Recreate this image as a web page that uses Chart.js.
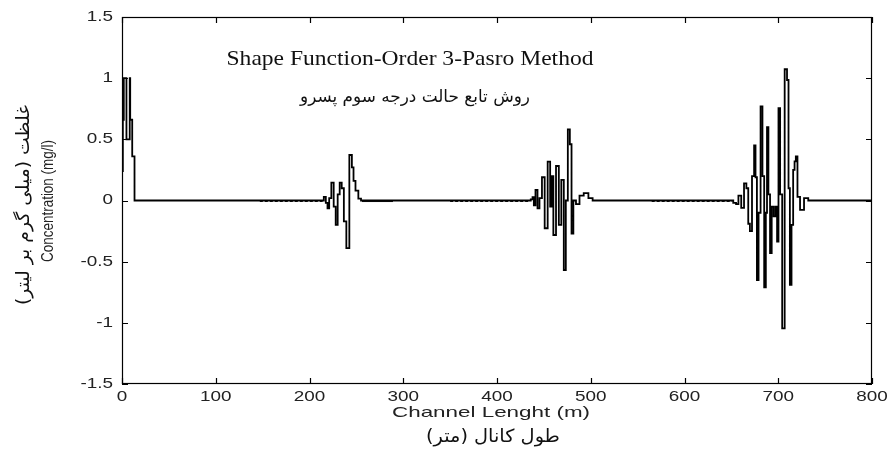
<!DOCTYPE html>
<html>
<head>
<meta charset="utf-8">
<script src="https://cdn.jsdelivr.net/npm/chart.js@4.4.1/dist/chart.umd.min.js"></script>
<style>
  html, body { margin: 0; padding: 0; background: #fff; }
  #wrap { width: 891px; height: 454px; }
</style>
</head>
<body>
<div id="wrap"><canvas id="conc"></canvas></div>
<script>
// inlet pulse
const pulseX = [0, 1.8, 2, 4.5, 5, 8, 8.5, 9, 10.8, 11, 13.2, 13.5];
const pulseY = [0.24, 0.66, 1.0, 1.0, 0.5, 0.5, 1.0, 0.66, 0.66, 0.36, 0.36, 0];

// travelling packets
const wave1X = [214, 216.5, 218.3, 220.1, 221.9, 224.7, 226.9, 229, 231.1, 233.3, 235.4, 237.9, 240.7, 244.3, 246.1, 247.8, 250.3, 253.9, 256];
const wave1Y = [0, 0.03, -0.02, -0.065, 0.02, 0.146, -0.05, -0.2, 0.05, 0.146, 0.1, -0.17, -0.39, 0.372, 0.27, 0.16, 0.08, 0.015, 0];

const wave2X = [435, 437, 438.8, 439.8, 442.3, 444.1, 446.5, 449.4, 452.3, 455.8, 457.6, 459, 461.2, 464.7, 467.2, 470, 472.5, 474.3, 476.8, 478.6, 480.4, 482.5, 486, 490, 495, 500, 504];
const wave2Y = [0, 0.01, 0.027, -0.04, 0.086, -0.064, 0.02, 0.19, -0.227, 0.317, -0.05, 0.2, -0.282, 0.282, -0.2, 0.168, -0.568, 0.0, 0.582, 0.46, -0.27, 0, -0.03, 0.04, 0.06, 0.02, 0];

const wave3X = [650, 654, 656, 659, 662, 665, 667, 669, 670.5, 673.5, 675, 676.5, 678, 680, 682.3, 684, 686, 687.5, 688.5, 690.5, 692, 694, 696, 698, 699.5, 701, 703, 705.4, 708.3, 710.4, 711.5, 713.3, 715, 716.8, 718, 719.5, 721.5, 725, 730, 734];
const wave3Y = [0, -0.02, -0.03, 0.04, -0.06, 0.14, 0.1, -0.19, -0.25, 0.2, 0.45, 0.19, -0.65, -0.1, 0.77, 0.2, -0.71, -0.1, 0.6, 0.05, -0.43, -0.05, -0.13, -0.05, -0.335, 0.754, 0.05, -1.045, 1.073, 0.985, 0.1, -0.69, -0.2, 0.25, 0.32, 0.36, 0.03, -0.076, 0.02, 0];

// low ripples [start, end] ahead of and behind the packets
const rippleAhead = [[147, 214], [350, 435], [565, 651]];
const rippleBehind = [[256, 289]];
const rippleLevel = -0.006;

const xTicks = [0, 100, 200, 300, 400, 500, 600, 700, 800];
const yTicks = [-1.5, -1, -0.5, 0, 0.5, 1, 1.5];
const yTickLabels = ['-1.5', '-1', '-0.5', '0', '0.5', '1', '1.5'];

function toPoints(xs, ys) {
  return xs.map((x, i) => ({ x: x, y: ys[i] }));
}

const profile = [].concat(
  toPoints(pulseX, pulseY),
  toPoints(wave1X, wave1Y),
  toPoints(wave2X, wave2Y),
  toPoints(wave3X, wave3Y),
  [{ x: 800, y: 0 }]
);

function spans(list) {
  const pts = [];
  list.forEach(([a, b]) => {
    pts.push({ x: a, y: rippleLevel }, { x: b, y: rippleLevel }, { x: b + 0.5, y: null });
  });
  return pts;
}

// draws text squeezed/stretched along its run
function putText(ctx, str, x, y, opt) {
  ctx.save();
  ctx.font = opt.font;
  ctx.fillStyle = opt.color || '#111';
  ctx.textAlign = opt.align || 'center';
  ctx.textBaseline = opt.baseline || 'middle';
  ctx.direction = opt.dir || 'ltr';
  const w = ctx.measureText(str).width;
  const sx = opt.width ? opt.width / w : (opt.sx || 1);
  ctx.translate(x, y);
  if (opt.rot) ctx.rotate(opt.rot);
  ctx.scale(sx, 1);
  ctx.fillText(str, 0, 0);
  ctx.restore();
}

const matlabAxes = {
  id: 'matlabAxes',
  afterDatasetsDraw(chart) {
    const { ctx, chartArea: a, scales: { x, y } } = chart;
    ctx.save();
    ctx.strokeStyle = '#000';
    ctx.lineWidth = 1.2;
    ctx.strokeRect(a.left + 0.5, a.top + 0.5, a.right - a.left - 1, a.bottom - a.top - 1);
    ctx.beginPath();
    xTicks.forEach(v => {
      const px = Math.round(x.getPixelForValue(v)) + 0.5;
      ctx.moveTo(px, a.bottom); ctx.lineTo(px, a.bottom - 6);
      ctx.moveTo(px, a.top); ctx.lineTo(px, a.top + 6);
    });
    yTicks.forEach(v => {
      const py = Math.round(y.getPixelForValue(v)) + 0.5;
      ctx.moveTo(a.left, py); ctx.lineTo(a.left + 6, py);
      ctx.moveTo(a.right, py); ctx.lineTo(a.right - 6, py);
    });
    ctx.stroke();
    ctx.restore();

    const tickFont = '14px "Liberation Sans", Arial, sans-serif';
    xTicks.forEach(v => {
      putText(ctx, String(v), x.getPixelForValue(v), a.bottom + 13, { font: tickFont, sx: 1.35, color: '#222' });
    });
    yTicks.forEach((v, i) => {
      putText(ctx, yTickLabels[i], a.left - 9, y.getPixelForValue(v), { font: tickFont, sx: 1.35, align: 'right', color: '#222' });
    });

    // axis titles
    putText(ctx, 'Channel Lenght (m)', 491, 413, { font: '15px "Liberation Sans", Arial, sans-serif', width: 198, color: '#222' });
    putText(ctx, 'طول کانال (متر)', 493, 437, { font: '18px "DejaVu Sans", sans-serif', width: 134, dir: 'rtl', color: '#111' });
    putText(ctx, 'Concentration (mg/l)', 48, 201, { font: '17px "Liberation Sans Narrow", "Liberation Sans", sans-serif', width: 122, rot: -Math.PI / 2, color: '#222' });
    putText(ctx, 'غلظت (میلی گرم بر لیتر)', 24, 205, { font: '18px "DejaVu Sans", sans-serif', width: 200, rot: -Math.PI / 2, dir: 'rtl', color: '#111' });

    // plot title
    putText(ctx, 'Shape Function-Order 3-Pasro Method', 410, 59, { font: '22px "Liberation Serif", "Times New Roman", serif', width: 367, color: '#111' });
    putText(ctx, 'روش تابع حالت درجه سوم پسرو', 415, 98, { font: '17px "DejaVu Sans", sans-serif', width: 230, dir: 'rtl', color: '#111' });
  }
};

new Chart(document.getElementById('conc'), {
  type: 'line',
  data: {
    datasets: [
      {
        label: 'Concentration',
        data: profile,
        borderColor: '#000',
        borderWidth: 1.8,
        pointRadius: 0,
        stepped: 'middle'
      },
      {
        label: 'Ripple ahead',
        data: spans(rippleAhead),
        borderColor: '#111',
        borderWidth: 1.6,
        borderDash: [3, 2],
        pointRadius: 0,
        spanGaps: false
      },
      {
        label: 'Ripple behind',
        data: spans(rippleBehind),
        borderColor: '#111',
        borderWidth: 1.6,
        pointRadius: 0,
        spanGaps: false
      }
    ]
  },
  options: {
    responsive: true,
    maintainAspectRatio: false,
    animation: false,
    layout: { padding: { top: 17, right: 19, left: 0, bottom: 0 } },
    plugins: { legend: { display: false }, tooltip: { enabled: false } },
    scales: {
      x: {
        type: 'linear',
        min: 0,
        max: 800,
        ticks: { display: false, stepSize: 100 },
        grid: { display: false },
        border: { display: false },
        afterFit(scale) { scale.height = 70; }
      },
      y: {
        min: -1.5,
        max: 1.5,
        ticks: { display: false, stepSize: 0.5 },
        grid: { display: false },
        border: { display: false },
        afterFit(scale) { scale.width = 122; }
      }
    }
  },
  plugins: [matlabAxes]
});
</script>
</body>
</html>
